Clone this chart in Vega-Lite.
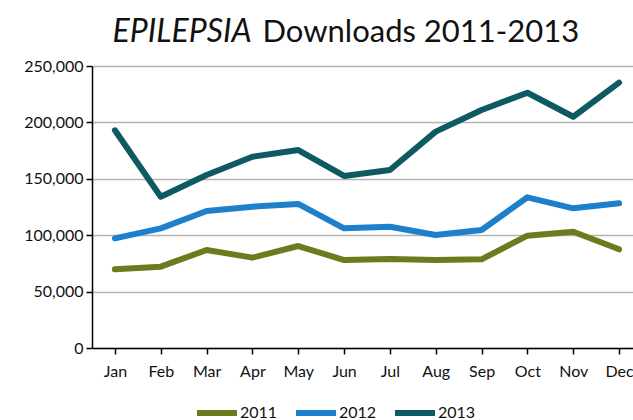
{
  "$schema": "https://vega.github.io/schema/vega-lite/v6.json",
  "width": 550,
  "height": 282,
  "autosize": {"type": "none"},
  "padding": {"left": 92, "top": 66, "right": 0, "bottom": 72},
  "background": "white",
  "config": {"font": "Lato", "view": {"stroke": null}},
  "data": {
    "values": [
      {"month": "Jan", "year": "2011", "downloads": 69800},
      {"month": "Feb", "year": "2011", "downloads": 72100},
      {"month": "Mar", "year": "2011", "downloads": 86900},
      {"month": "Apr", "year": "2011", "downloads": 80100},
      {"month": "May", "year": "2011", "downloads": 90400},
      {"month": "Jun", "year": "2011", "downloads": 78000},
      {"month": "Jul", "year": "2011", "downloads": 78900},
      {"month": "Aug", "year": "2011", "downloads": 78000},
      {"month": "Sep", "year": "2011", "downloads": 78600},
      {"month": "Oct", "year": "2011", "downloads": 99600},
      {"month": "Nov", "year": "2011", "downloads": 103100},
      {"month": "Dec", "year": "2011", "downloads": 87500},
      {"month": "Jan", "year": "2012", "downloads": 97200},
      {"month": "Feb", "year": "2012", "downloads": 106100},
      {"month": "Mar", "year": "2012", "downloads": 121400},
      {"month": "Apr", "year": "2012", "downloads": 125300},
      {"month": "May", "year": "2012", "downloads": 127700},
      {"month": "Jun", "year": "2012", "downloads": 106100},
      {"month": "Jul", "year": "2012", "downloads": 107500},
      {"month": "Aug", "year": "2012", "downloads": 100200},
      {"month": "Sep", "year": "2012", "downloads": 104600},
      {"month": "Oct", "year": "2012", "downloads": 133600},
      {"month": "Nov", "year": "2012", "downloads": 123800},
      {"month": "Dec", "year": "2012", "downloads": 128300},
      {"month": "Jan", "year": "2013", "downloads": 193000},
      {"month": "Feb", "year": "2013", "downloads": 134100},
      {"month": "Mar", "year": "2013", "downloads": 153400},
      {"month": "Apr", "year": "2013", "downloads": 169600},
      {"month": "May", "year": "2013", "downloads": 175500},
      {"month": "Jun", "year": "2013", "downloads": 152500},
      {"month": "Jul", "year": "2013", "downloads": 157800},
      {"month": "Aug", "year": "2013", "downloads": 191800},
      {"month": "Sep", "year": "2013", "downloads": 211000},
      {"month": "Oct", "year": "2013", "downloads": 226300},
      {"month": "Nov", "year": "2013", "downloads": 205000},
      {"month": "Dec", "year": "2013", "downloads": 235200}
    ]
  },
  "mark": {"type": "line", "strokeWidth": 6, "strokeCap": "round", "strokeJoin": "round"},
  "encoding": {
    "x": {
      "field": "month",
      "type": "ordinal",
      "sort": ["Jan", "Feb", "Mar", "Apr", "May", "Jun", "Jul", "Aug", "Sep", "Oct", "Nov", "Dec"],
      "scale": {"paddingInner": 0, "paddingOuter": 0},
      "axis": {
        "bandPosition": 0,
        "labelAngle": 0,
        "tickSize": 6,
        "tickWidth": 1.5,
        "tickColor": "black",
        "domainColor": "black",
        "domainWidth": 1.5,
        "labelFontSize": 16,
        "labelColor": "#111111",
        "labelPadding": 9,
        "grid": false,
        "title": "Downloads 2011-2013",
        "titleFontSize": 31,
        "titleFontWeight": "normal",
        "titleAlign": "left",
        "titleBaseline": "alphabetic",
        "titleX": 170,
        "titleY": -307,
        "titleColor": "#111111"
      }
    },
    "y": {
      "field": "downloads",
      "type": "quantitative",
      "scale": {"domain": [0, 250000]},
      "axis": {
        "values": [0, 50000, 100000, 150000, 200000, 250000],
        "format": ",.0f",
        "tickSize": 6,
        "tickWidth": 1.5,
        "tickColor": "black",
        "domainColor": "black",
        "domainWidth": 1.5,
        "gridColor": "#b4b4b4",
        "gridWidth": 1.5,
        "labelFontSize": 16,
        "labelColor": "#111111",
        "labelPadding": 3,
        "title": "EPILEPSIA",
        "titleAngle": 0,
        "titleFontSize": 32,
        "titleFontWeight": "normal",
        "titleFontStyle": "italic",
        "titleAlign": "left",
        "titleBaseline": "alphabetic",
        "titleX": 20,
        "titleY": -25,
        "titleColor": "#111111"
      }
    },
    "color": {
      "field": "year",
      "type": "nominal",
      "scale": {"domain": ["2011", "2012", "2013"], "range": ["#6b7b1e", "#1e7fcb", "#0d5b61"]},
      "legend": {
        "title": null,
        "orient": "none",
        "legendX": 102,
        "legendY": 324,
        "direction": "horizontal",
        "symbolType": "stroke",
        "symbolSize": 1600,
        "symbolStrokeWidth": 6,
        "labelFontSize": 16,
        "labelColor": "#111111",
        "labelOffset": 0,
        "columnPadding": 6
      }
    }
  }
}
